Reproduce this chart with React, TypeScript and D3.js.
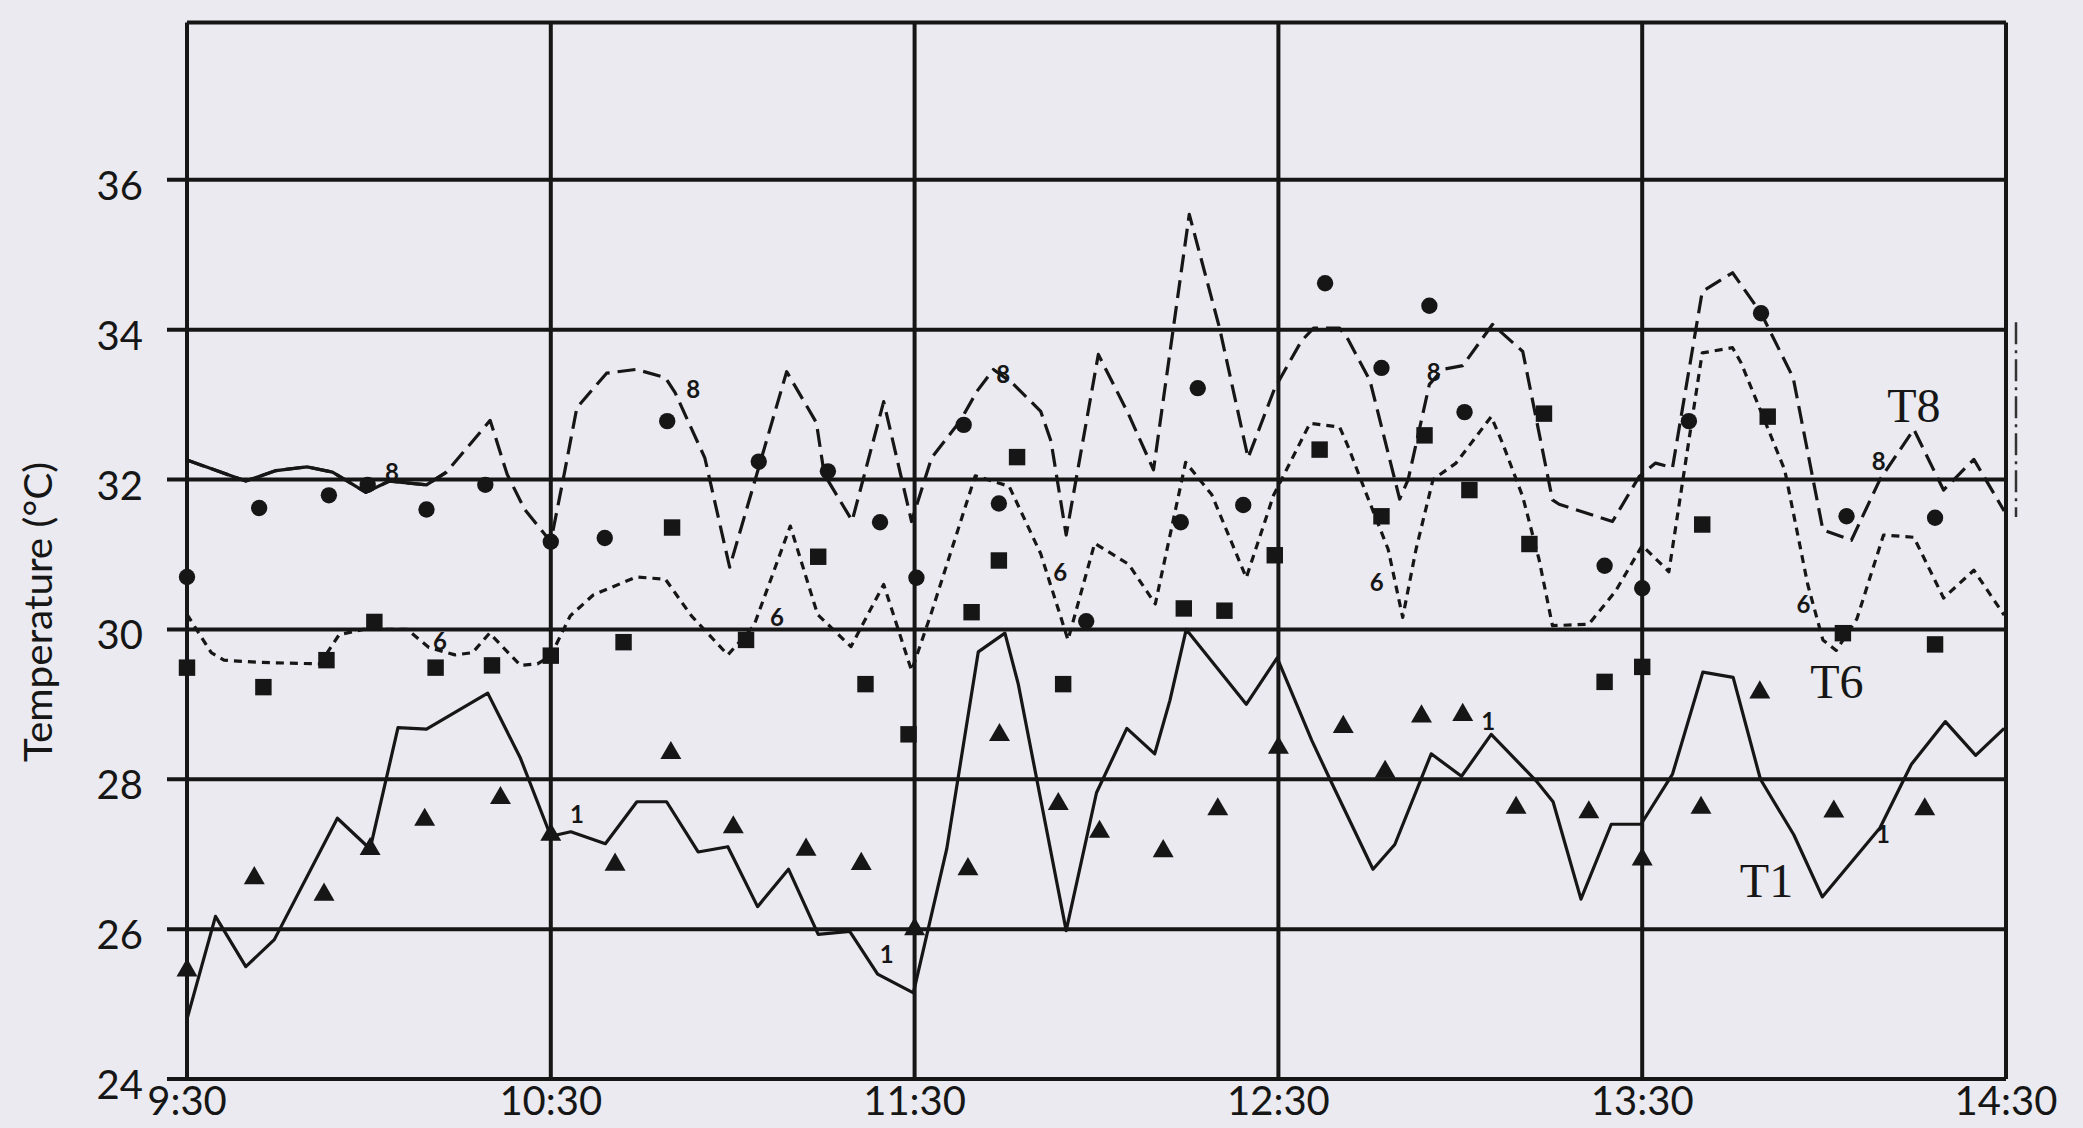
import React, { useEffect, useRef } from "react";
import * as d3 from "d3";

// time axis: minutes after 9:30, one tick per hour
const timeTicks = ["9:30", "10:30", "11:30", "12:30", "13:30", "14:30"];
const tempTicks = [24, 26, 28, 30, 32, 34, 36];

// predicted temperatures [minutes after 9:30, °C]
const t8Predicted: [number, number][] = [
  [0, 32.26], [9.7, 31.98], [14.7, 32.12], [19.8, 32.17], [24, 32.1], [29.5, 31.83],
  [33.4, 31.98], [39.5, 31.93], [42.8, 32.1], [50, 32.79], [52.8, 32.07], [55.7, 31.6],
  [60, 31.17], [62.2, 32.07], [64.3, 32.96], [69.2, 33.42], [74.1, 33.47], [78.9, 33.36],
  [80.5, 33.16], [85.4, 32.29], [89.5, 30.83], [98.9, 33.44], [103.8, 32.76], [105.1, 32.07],
  [109.7, 31.45], [114.9, 33.04], [119.5, 31.44], [122.8, 32.29], [127.5, 32.78], [130.3, 33.18],
  [133, 33.47], [136.1, 33.29], [140.8, 32.91], [142.5, 32.51], [145, 31.26], [150.3, 33.67],
  [155.3, 32.87], [159.4, 32.13], [165.3, 35.54], [170.3, 34.02], [175, 32.29], [179.4, 33.22],
  [183.8, 33.85], [185.8, 34.02], [190.1, 34.02], [191.5, 33.87], [195.1, 33.32], [200, 31.74],
  [201.4, 32.0], [204.9, 33.27], [207.1, 33.47], [210.4, 33.52], [215.3, 34.07], [220.3, 33.71],
  [225.2, 31.73], [226.3, 31.67], [235.1, 31.44], [239.5, 32.04], [242.2, 32.22], [245, 32.16],
  [249.9, 34.51], [254.9, 34.76], [259.6, 34.22], [264.9, 33.36], [269.8, 31.33], [274.5, 31.19],
  [279.2, 32.0], [284.8, 32.67], [289.7, 31.86], [294.7, 32.27], [299.7, 31.58],
];

const t6Predicted: [number, number][] = [
  [0, 30.2], [4, 29.69], [6.1, 29.59], [11.9, 29.56], [21.9, 29.54], [25.1, 29.93],
  [29.1, 30.0], [36.3, 30.0], [39.9, 29.76], [44.2, 29.66], [47.1, 29.69], [49.9, 29.95],
  [55, 29.52], [57.8, 29.54], [60, 29.65], [63.2, 30.18], [67, 30.46], [74.1, 30.7],
  [78.9, 30.67], [83.2, 30.18], [89.2, 29.66], [93.5, 30.05], [99.5, 31.38], [104, 30.2],
  [109.5, 29.77], [114.9, 30.6], [119.5, 29.45], [122.8, 30.23], [130, 32.05], [135.6, 31.91],
  [140.8, 31.01], [145.3, 29.86], [149.7, 31.15], [155.3, 30.87], [159.7, 30.34], [164.7, 32.23],
  [169, 31.8], [174.7, 30.69], [179.2, 31.79], [185.2, 32.75], [190.1, 32.7], [191.5, 32.44],
  [194.5, 31.81], [198.1, 31.07], [200.5, 30.16], [202.7, 31.07], [205.5, 32.0], [209.3, 32.22],
  [215.1, 32.84], [217, 32.48], [220.3, 31.77], [223, 30.93], [225.2, 30.05], [231.2, 30.07],
  [235.6, 30.51], [240, 31.12], [244.4, 30.77], [249.9, 33.69], [254.9, 33.76], [256.3, 33.56],
  [263.5, 32.13], [267.3, 30.6], [269.8, 29.86], [272, 29.72], [275.4, 30.14], [279.8, 31.26],
  [284.8, 31.23], [289.7, 30.42], [294.7, 30.79], [299.7, 30.19],
];

const t1Predicted: [number, number][] = [
  [0, 24.8], [4.7, 26.17], [9.7, 25.5], [14.4, 25.86], [24.8, 27.48], [30.2, 27.07],
  [34.8, 28.69], [39.5, 28.67], [49.6, 29.15], [55, 28.28], [60, 27.24], [63.3, 27.3],
  [69, 27.14], [74.2, 27.7], [79.1, 27.7], [84.3, 27.03], [89.2, 27.1], [94.1, 26.3],
  [99.2, 26.8], [104.1, 25.93], [109.3, 25.97], [113.9, 25.4], [119.8, 25.15], [125.3, 27.07],
  [130.5, 29.7], [134.9, 29.95], [137.1, 29.27], [145, 25.98], [150, 27.82], [155, 28.68],
  [159.6, 28.34], [162.1, 29.05], [164.8, 30.0], [174.7, 29.0], [179.8, 29.62], [185.5, 28.52],
  [188.5, 28.0], [195.6, 26.8], [199.2, 27.13], [205.2, 28.34], [210.2, 28.04], [215.1, 28.6],
  [222.5, 27.98], [225.3, 27.7], [229.9, 26.4], [234.9, 27.4], [239.8, 27.4], [245, 28.07],
  [250, 29.43], [255, 29.36], [259.5, 28.0], [265, 27.26], [269.7, 26.43], [279.2, 27.35],
  [284.4, 28.2], [290, 28.77], [295, 28.32], [299.7, 28.68],
];

// measured temperatures
const t8Measured: [number, number][] = [
  [0, 30.7], [11.9, 31.62], [23.4, 31.79], [29.8, 31.93], [39.5, 31.6], [49.2, 31.93],
  [60, 31.17], [68.9, 31.22], [79.2, 32.78], [94.3, 32.24], [105.7, 32.11], [114.3, 31.43],
  [120.3, 30.69], [128.1, 32.73], [133.9, 31.68], [148.3, 30.11], [163.9, 31.43], [166.7, 33.22],
  [174.2, 31.66], [187.7, 34.62], [197, 33.49], [204.9, 34.32], [210.7, 32.9], [233.8, 30.85],
  [240, 30.55], [247.7, 32.78], [259.6, 34.22], [273.7, 31.51], [288.3, 31.49],
];

const t6Measured: [number, number][] = [
  [0, 29.49], [12.6, 29.23], [23, 29.59], [30.9, 30.1], [41, 29.49], [50.3, 29.52],
  [60, 29.65], [72, 29.83], [80, 31.36], [92.2, 29.86], [104.1, 30.97], [111.9, 29.27],
  [119, 28.6], [129.4, 30.23], [133.9, 30.92], [136.9, 32.3], [144.5, 29.27], [164.4, 30.28],
  [171.1, 30.25], [179.4, 30.99], [186.8, 32.4], [197, 31.51], [204.1, 32.59], [211.5, 31.86],
  [221.4, 31.14], [223.8, 32.88], [233.8, 29.3], [240, 29.5], [249.9, 31.4], [260.7, 32.84],
  [273.1, 29.95], [288.3, 29.8],
];

const t1Measured: [number, number][] = [
  [0, 25.45], [11.1, 26.68], [22.6, 26.46], [30.2, 27.07], [39.2, 27.46], [51.7, 27.75],
  [60, 27.26], [70.6, 26.86], [79.8, 28.35], [90.1, 27.36], [102.1, 27.06], [111.2, 26.87],
  [120, 26.0], [128.8, 26.8], [134, 28.59], [143.7, 27.67], [150.5, 27.3], [161, 27.04],
  [170, 27.6], [180, 28.42], [190.7, 28.7], [197.6, 28.1], [203.6, 28.84], [210.4, 28.86],
  [219.2, 27.62], [231.2, 27.56], [240, 26.93], [249.7, 27.62], [259.4, 29.16], [271.6, 27.57],
  [286.6, 27.6],
];

// small curve tags written along the lines
const curveTags: [string, number, number][] = [
  ["8", 33.8, 32.11], ["8", 83.5, 33.22], ["8", 134.6, 33.42], ["8", 205.6, 33.44], ["8", 279, 32.26],
  ["6", 41.7, 29.85], ["6", 97.3, 30.17], ["6", 144, 30.77], ["6", 196.2, 30.64], ["6", 266.6, 30.35],
  ["1", 64.3, 27.55], ["1", 115.4, 25.68], ["1", 214.6, 28.79], ["1", 279.7, 27.28],
];

// series names, left/baseline anchor
const seriesLabels: [string, number, number][] = [
  ["T8", 280.4, 32.77],
  ["T6", 267.7, 29.09],
  ["T1", 256.1, 26.43],
];

const W = 2083;
const H = 1128;
const INK = "#161616";

const App = () => {
  const svgRef = useRef<SVGSVGElement>(null);

  useEffect(() => {
    const svg = d3.select(svgRef.current);
    svg.selectAll("*").remove();

    const x = d3.scaleLinear().domain([0, 300]).range([187, 2006]);
    const y = d3.scaleLinear().domain([24, 38]).range([1079, 30]);
    const top = y(38.1);

    svg.append("rect").attr("width", W).attr("height", H).attr("fill", "#eaeaf0");

    const grid = svg.append("g").attr("stroke", INK).attr("stroke-width", 4);

    // horizontal lines, each poking out left as a tick
    grid
      .selectAll(".hline")
      .data(tempTicks)
      .enter()
      .append("line")
      .attr("x1", x(0) - 20)
      .attr("x2", x(300))
      .attr("y1", (d) => y(d))
      .attr("y2", (d) => y(d));

    grid
      .append("line")
      .attr("x1", x(0))
      .attr("x2", x(300))
      .attr("y1", top)
      .attr("y2", top);

    grid
      .selectAll(".vline")
      .data(timeTicks)
      .enter()
      .append("line")
      .attr("x1", (_, i) => x(i * 60))
      .attr("x2", (_, i) => x(i * 60))
      .attr("y1", top)
      .attr("y2", y(24));

    // tick labels
    svg
      .selectAll(".ylab")
      .data(tempTicks)
      .enter()
      .append("text")
      .attr("x", x(0) - 44)
      .attr("y", (d) => y(d) + 5)
      .attr("text-anchor", "end")
      .attr("dominant-baseline", "central")
      .style("font-family", "Lato, sans-serif")
      .style("font-size", "40px")
      .style("fill", INK)
      .text((d) => d);

    svg
      .selectAll(".xlab")
      .data(timeTicks)
      .enter()
      .append("text")
      .attr("x", (_, i) => x(i * 60))
      .attr("y", 1115)
      .attr("text-anchor", "middle")
      .style("font-family", "Lato, sans-serif")
      .style("font-size", "40px")
      .style("fill", INK)
      .text((d) => d);

    svg
      .append("text")
      .attr("transform", `translate(52, 612) rotate(-90)`)
      .attr("text-anchor", "middle")
      .attr("textLength", 300)
      .attr("lengthAdjust", "spacingAndGlyphs")
      .style("font-family", "Lato, sans-serif")
      .style("font-size", "38px")
      .style("fill", INK)
      .text("Temperature (\u00B0C)");

    const line = d3
      .line<[number, number]>()
      .x((d) => x(d[0]))
      .y((d) => y(d[1]));

    const curves = svg
      .append("g")
      .attr("fill", "none")
      .attr("stroke", INK)
      .attr("stroke-width", 3.2)
      .attr("stroke-linejoin", "round");

    curves.append("path").attr("d", line(t1Predicted));
    curves.append("path").attr("d", line(t6Predicted)).attr("stroke-dasharray", "8,6");
    curves.append("path").attr("d", line(t8Predicted)).attr("stroke-dasharray", "18,8");
    // first stretch of T8 is printed solid
    curves.append("path").attr("d", line(t8Predicted.filter((d) => d[0] <= 42.8)));

    // measured markers
    const markers: [[number, number][], d3.SymbolType, number][] = [
      [t8Measured, d3.symbolCircle, 210],
      [t6Measured, d3.symbolSquare, 270],
      [t1Measured, d3.symbolTriangle, 190],
    ];
    markers.forEach(([pts, type, size]) => {
      svg
        .append("g")
        .selectAll("path")
        .data(pts)
        .enter()
        .append("path")
        .attr("transform", (d) => `translate(${x(d[0])},${y(d[1])})`)
        .attr("d", d3.symbol().type(type).size(size)())
        .attr("fill", INK);
    });

    svg
      .selectAll(".tag")
      .data(curveTags)
      .enter()
      .append("text")
      .attr("x", (d) => x(d[1]))
      .attr("y", (d) => y(d[2]))
      .attr("text-anchor", "middle")
      .attr("dominant-baseline", "central")
      .style("font-family", "Lato, sans-serif")
      .style("font-weight", "bold")
      .style("font-size", "24px")
      .style("fill", INK)
      .text((d) => d[0]);

    svg
      .selectAll(".series")
      .data(seriesLabels)
      .enter()
      .append("text")
      .attr("x", (d) => x(d[1]))
      .attr("y", (d) => y(d[2]))
      .style("font-family", "Liberation Serif, serif")
      .style("font-size", "48px")
      .style("fill", INK)
      .text((d) => d[0]);

    // dash-dot rule printed just outside the right edge
    svg
      .append("line")
      .attr("x1", x(300) + 10)
      .attr("x2", x(300) + 10)
      .attr("y1", y(34.1))
      .attr("y2", y(31.5))
      .attr("stroke", "#333")
      .attr("stroke-width", 2.5)
      .attr("stroke-dasharray", "22,6,3,6");
  }, []);

  return (
    <svg
      ref={svgRef}
      width={W}
      height={H}
      style={{ position: "absolute", left: 0, top: 0 }}
    ></svg>
  );
};

export default App;
